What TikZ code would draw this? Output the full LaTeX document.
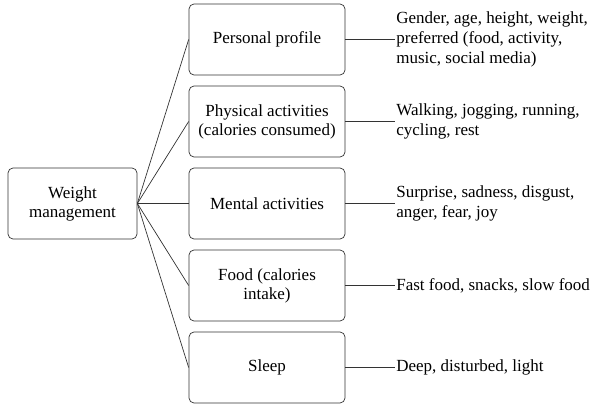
\documentclass[tikz,border=0pt]{standalone}
\usepackage{fontspec}
\setmainfont{Liberation Serif}
\usetikzlibrary{positioning}
\tikzset{
  rootbox/.style={draw, rounded corners=5pt, minimum width=129pt, minimum height=71pt,
    align=center, font=\fontsize{17}{19}\selectfont},
  catbox/.style={rootbox, minimum width=156pt},
  detail/.style={anchor=west, align=left, inner sep=1pt, font=\fontsize{17}{20}\selectfont}
}
\begin{document}
\begin{tikzpicture}[x=1pt, y=1pt, line width=0.7pt, draw=black!80]
    \useasboundingbox (0,0) rectangle (600,405);

    % Root node
    \node[rootbox] (wm) at (72.5,201.5) {Weight\\management};

    % Categories with their details
    \foreach \n/\y/\txt/\det in {
        pp/365.5/{Personal profile}/{Gender, age, height, weight,\\preferred (food, activity,\\music, social media)},
        pa/283.5/{Physical activities\\(calories consumed)}/{Walking, jogging, running,\\cycling, rest},
        ma/201.5/{Mental activities}/{Surprise, sadness, disgust,\\anger, fear, joy},
        fd/119.5/{Food (calories\\intake)}/{Fast food, snacks, slow food},
        sl/37.5/{Sleep}/{Deep, disturbed, light}}
    {
        \node[catbox] (\n) at (267,\y) {\txt};
        \node[detail] (\n-d) at (395,\y) {\det};
        \draw (wm.east) -- (\n.west);
        \draw (\n.east) -- (\n-d.west);
    }
\end{tikzpicture}
\end{document}
